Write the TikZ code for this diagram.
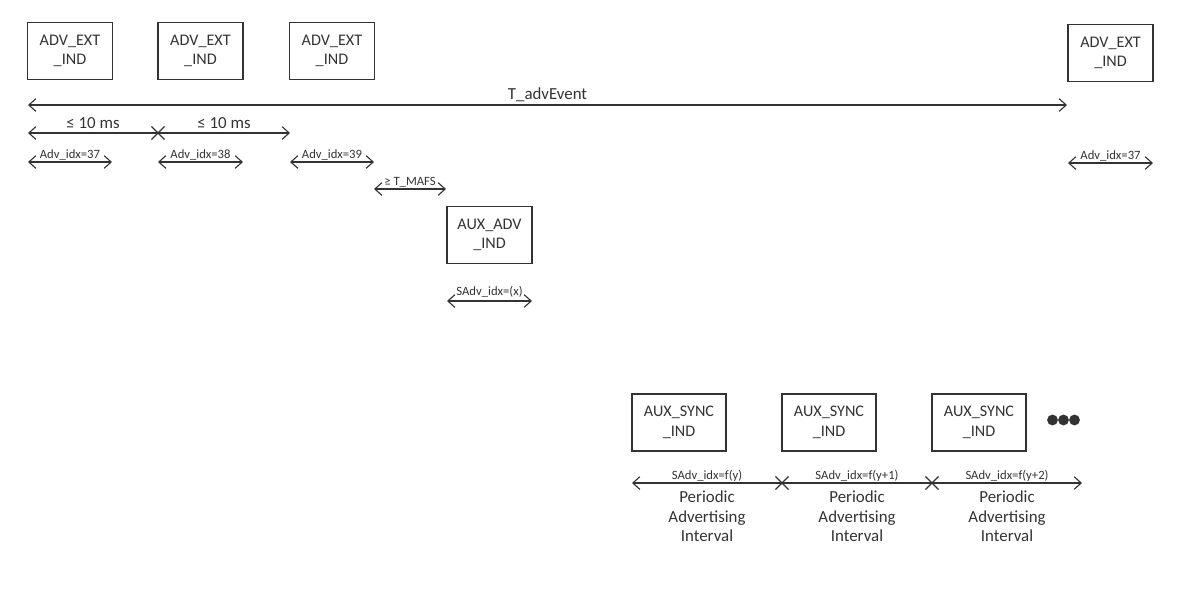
\documentclass[tikz,border=0pt]{standalone}
\usepackage{fontspec}
\setmainfont{Carlito}
\usetikzlibrary{arrows.meta, shapes.misc}
\definecolor{ink}{HTML}{333333}

\begin{document}
\begin{tikzpicture}[x=0.025cm,y=-0.025cm,>={Straight Barb[length=5pt,width=9pt]},
   frame/.style={draw=ink,line width=0.9pt,minimum width=2.125cm,minimum height=1.425cm,
                 align=center,inner sep=0pt,text=ink,font=\fontsize{11.5}{14}\selectfont},
   wideframe/.style={frame,minimum width=2.35cm},
   span/.style={draw=ink,line width=0.8pt},
   biglbl/.style={text=ink,inner sep=1pt,font=\fontsize{12}{14}\selectfont},
   smalllbl/.style={text=ink,inner sep=1pt,font=\fontsize{9}{11}\selectfont},
   tick/.style={cross out,draw=ink,line width=0.8pt,minimum size=0.3cm,inner sep=0pt},
   dot/.style={circle,fill=ink,minimum size=0.27cm,inner sep=0pt}]

   \useasboundingbox (0,0) rectangle (1200,601);

   \node[frame] (ext1) at (70,51)    {ADV\_EXT\\\_IND};
   \node[frame] (ext2) at (200.5,51) {ADV\_EXT\\\_IND};
   \node[frame] (ext3) at (332,51)   {ADV\_EXT\\\_IND};
   \node[frame] (ext4) at (1110.5,53) {ADV\_EXT\\\_IND};
   \node[frame] (aux)  at (489.5,235) {AUX\_ADV\\\_IND};
   \node[wideframe] (sync1) at (679,422.5) {AUX\_SYNC\\\_IND};
   \node[wideframe] (sync2) at (829,422.5) {AUX\_SYNC\\\_IND};
   \node[wideframe] (sync3) at (979,422.5) {AUX\_SYNC\\\_IND};

   \node[dot] (dot1) at (1052.5,420) {};
   \node[dot] (dot2) at (1063.5,420) {};
   \node[dot] (dot3) at (1074.5,420) {};

   \coordinate (ev0) at (28,105);
   \coordinate (ev1) at (1067,105);

   \coordinate (ms0) at (28,133);
   \node[tick] (ms1) at (158,133) {};
   \coordinate (ms2) at (290,133);

   \coordinate (id1a) at (28,162);
   \coordinate (id1b) at (112,162);
   \coordinate (id2a) at (158,162);
   \coordinate (id2b) at (243,162);
   \coordinate (id3a) at (290,162);
   \coordinate (id3b) at (374,162);
   \coordinate (id4a) at (1068,163);
   \coordinate (id4b) at (1153,163);

   \coordinate (mafs0) at (374,189);
   \coordinate (mafs1) at (446,189);

   \coordinate (sx0) at (447,301);
   \coordinate (sx1) at (532,301);

   \coordinate (pa0) at (632,483);
   \node[tick] (pa1) at (782,483) {};
   \node[tick] (pa2) at (932,483) {};
   \coordinate (pa3) at (1082,483);

   \draw[span,<->] (ev0) -- node[biglbl,above=1pt] {T\_advEvent} (ev1);

   \draw[span,<-] (ms0) -- node[biglbl,above=2pt] {≤ 10 ms} (ms1.center);
   \draw[span,->] (ms1.center) -- node[biglbl,above=2pt] {≤ 10 ms} (ms2);

   \draw[span,<->] (id1a) -- node[smalllbl,above=0pt] {Adv\_idx=37} (id1b);
   \draw[span,<->] (id2a) -- node[smalllbl,above=0pt] {Adv\_idx=38} (id2b);
   \draw[span,<->] (id3a) -- node[smalllbl,above=0pt] {Adv\_idx=39} (id3b);
   \draw[span,<->] (id4a) -- node[smalllbl,above=0pt] {Adv\_idx=37} (id4b);

   \draw[span,<->] (mafs0) -- node[smalllbl,above=0pt] {≥ T\_MAFS} (mafs1);
   \draw[span,<->] (sx0) -- node[smalllbl,above=1pt] {SAdv\_idx=(x)} (sx1);

   \draw[span,<-] (pa0) -- node[smalllbl,above=0pt] {SAdv\_idx=f(y)}
         node[biglbl,below=4pt,align=center] {Periodic\\Advertising\\Interval} (pa1.center);
   \draw[span] (pa1.center) -- node[smalllbl,above=0pt] {SAdv\_idx=f(y+1)}
         node[biglbl,below=4pt,align=center] {Periodic\\Advertising\\Interval} (pa2.center);
   \draw[span,->] (pa2.center) -- node[smalllbl,above=0pt] {SAdv\_idx=f(y+2)}
         node[biglbl,below=4pt,align=center] {Periodic\\Advertising\\Interval} (pa3);

\end{tikzpicture}
\end{document}
